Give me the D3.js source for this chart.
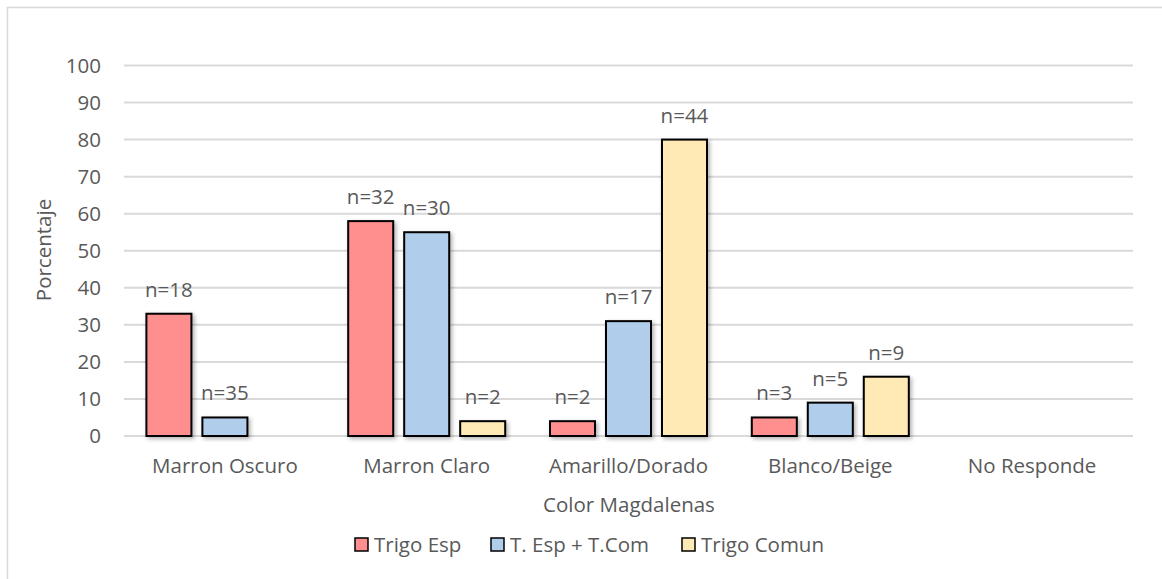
<!DOCTYPE html>
<html><head><meta charset="utf-8">
<script src="https://cdn.jsdelivr.net/npm/d3@7"></script>
<style>body{margin:0;background:#fff}svg{display:block}text{font-family:"Open Sans",sans-serif;fill:#595959}</style>
</head><body>
<script>
const categories = ["Marron Oscuro","Marron Claro","Amarillo/Dorado","Blanco/Beige","No Responde"];
const seriesNames = ["Trigo Esp","T. Esp + T.Com","Trigo Comun"];
const trigoEsp = [33,58,4,5,0];
const tEspTCom = [5,55,31,9,0];
const trigoComun = [0,4,80,16,0];
const labelsTrigoEsp = ["n=18","n=32","n=2","n=3",""];
const labelsTEspTCom = ["n=35","n=30","n=17","n=5",""];
const labelsTrigoComun = ["","n=2","n=44","n=9",""];
const yTicks = [0,10,20,30,40,50,60,70,80,90,100];
const colors = ["#FF8F8F","#B0CEEC","#FFE9B4"];

const W=1162,H=579, FS="20.5px";
const svg=d3.select("body").append("svg").attr("width",W).attr("height",H);
const defs=svg.append("defs");
const f=defs.append("filter").attr("id","sh").attr("x","-20%").attr("y","-20%").attr("width","150%").attr("height","150%");
f.append("feDropShadow").attr("dx",2).attr("dy",2).attr("stdDeviation",2).attr("flood-color","#000").attr("flood-opacity",0.3);

svg.append("rect").attr("x",7.5).attr("y",7.5).attr("width",W+20).attr("height",H+20).attr("fill","#fff").attr("stroke","#d9d9d9").attr("stroke-width",1.5);

const x0=d3.scaleBand().domain(categories).range([124,1133]);
const y=d3.scaleLinear().domain([0,100]).range([436,65.5]);
const x1=d3.scaleBand().domain(seriesNames).range([0,x0.bandwidth()]).paddingInner(0.196).paddingOuter(0.4);

const g=svg.append("g");
g.selectAll("line.grid").data(yTicks).enter().append("line")
 .attr("x1",124).attr("x2",1133).attr("y1",d=>y(d)).attr("y2",d=>y(d))
 .attr("stroke","#d9d9d9").attr("stroke-width",2);

const yAxis=d3.axisLeft(y).tickValues(yTicks).tickSize(0).tickPadding(23);
const ya=svg.append("g").attr("transform","translate(124,0)").call(yAxis);
ya.select(".domain").remove();
ya.selectAll("text").style("font-size",FS).attr("fill","#595959").attr("dy","0.34em");

const data=[trigoEsp,tEspTCom,trigoComun];
const labels=[labelsTrigoEsp,labelsTEspTCom,labelsTrigoComun];
seriesNames.forEach((s,si)=>{
  const bg=svg.append("g");
  const rows=categories.map((c,i)=>({c,v:data[si][i],l:labels[si][i]}));
  bg.selectAll("rect").data(rows.filter(d=>d.v>0))
   .enter().append("rect")
   .attr("x",d=>x0(d.c)+x1(s)).attr("width",x1.bandwidth())
   .attr("y",d=>y(d.v)).attr("height",d=>y(0)-y(d.v))
   .attr("fill",colors[si]).attr("stroke","#000").attr("stroke-width",2).attr("filter","url(#sh)");
  bg.selectAll("text").data(rows.filter(d=>d.l))
   .enter().append("text")
   .attr("x",d=>x0(d.c)+x1(s)+x1.bandwidth()/2).attr("y",d=>y(d.v)-17)
   .attr("text-anchor","middle").style("font-size",FS).text(d=>d.l);
});

const xAxis=d3.axisBottom(x0).tickSize(0).tickPadding(22);
const xa=svg.append("g").attr("transform","translate(0,436)").call(xAxis);
xa.select(".domain").remove();
xa.selectAll("text").style("font-size",FS).attr("fill","#595959");

svg.append("text").attr("transform","translate(51,250) rotate(-90)").attr("text-anchor","middle").style("font-size",FS).text("Porcentaje");
svg.append("text").attr("x",629).attr("y",512).attr("text-anchor","middle").style("font-size",FS).text("Color Magdalenas");

const legX=[355,491,682];
const lg=svg.append("g");
seriesNames.forEach((s,i)=>{
  lg.append("rect").attr("x",legX[i]).attr("y",538).attr("width",13).attr("height",13).attr("fill",colors[i]).attr("stroke","#000").attr("stroke-width",1.5);
  lg.append("text").attr("x",legX[i]+19).attr("y",552).style("font-size",FS).text(s);
});
</script>
</body></html>
